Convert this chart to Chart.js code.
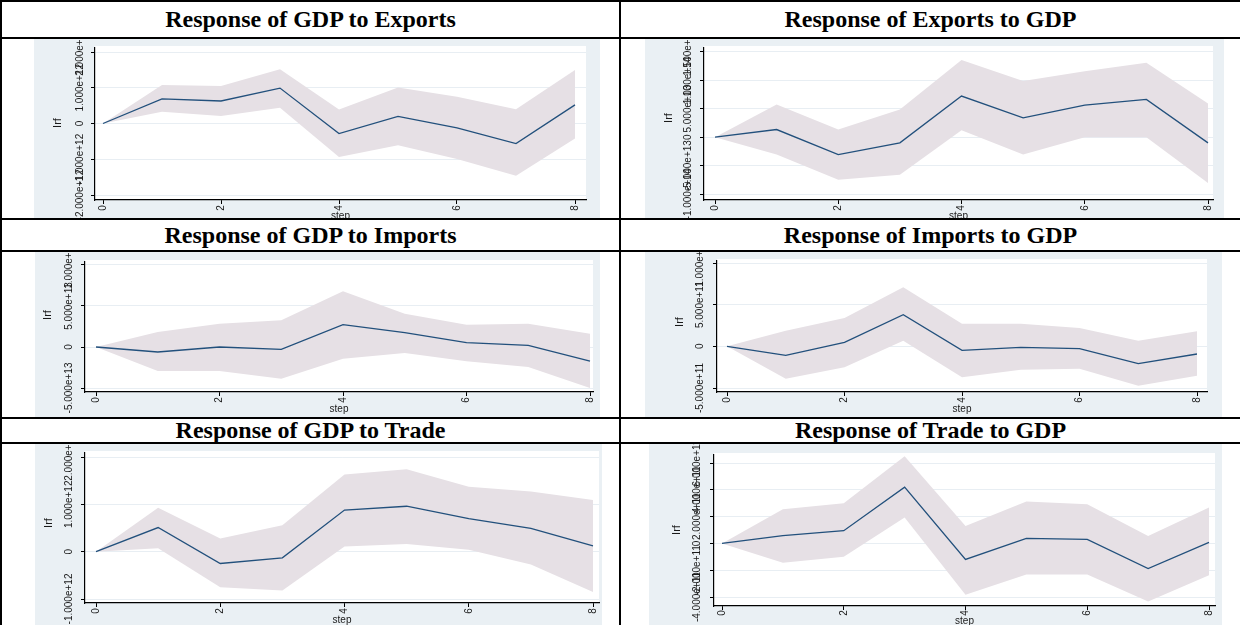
<!DOCTYPE html>
<html>
<head>
<meta charset="utf-8">
<script src="https://cdn.jsdelivr.net/npm/chart.js@4.4.0/dist/chart.umd.min.js"></script>
<style>
  html, body { margin: 0; padding: 0; background: #fff; }
  body { width: 1240px; height: 625px; position: relative; overflow: hidden; }
  .rule { position: absolute; background: #000; }
  .title { position: absolute; display: flex; align-items: center; justify-content: center;
           font: bold 24px "Liberation Serif", "Times New Roman", serif; color: #000; white-space: nowrap; }
  canvas { position: absolute; background: #eaf0f4; }
</style>
</head>
<body>
<script>
// ---- data -------------------------------------------------------------
const steps = [0, 1, 2, 3, 4, 5, 6, 7, 8];
const xTicks = [0, 2, 4, 6, 8];
const xTickLabels = ['0', '2', '4', '6', '8'];
const xTitle = 'step';
const yTitle = 'Irf';

// Response of GDP to Exports
const gdpExportsIrf   = [0, 0.69e12, 0.63e12, 0.99e12, -0.28e12, 0.20e12, -0.12e12, -0.56e12, 0.52e12];
const gdpExportsUpper = [0, 1.08e12, 1.05e12, 1.52e12, 0.39e12, 1.01e12, 0.75e12, 0.40e12, 1.50e12];
const gdpExportsLower = [0, 0.33e12, 0.21e12, 0.44e12, -0.94e12, -0.61e12, -0.99e12, -1.46e12, -0.42e12];
const gdpExportsTicks = [-2e12, -1e12, 0, 1e12, 2e12];
const gdpExportsTickLabels = ['-2.000e+12', '-1.000e+12', '0', '1.000e+12', '2.000e+12'];

// Response of Exports to GDP
const exportsGdpIrf   = [0, 1.35e13, -3.06e13, -1.0e13, 7.24e13, 3.41e13, 5.65e13, 6.65e13, -1.0e13];
const exportsGdpUpper = [0, 5.76e13, 1.35e13, 4.88e13, 13.6e13, 9.88e13, 11.6e13, 13.1e13, 5.94e13];
const exportsGdpLower = [0, -3.06e13, -7.47e13, -6.59e13, 1.24e13, -3.06e13, 0, 0, -8.06e13];
const exportsGdpTicks = [-1e14, -5e13, 0, 5e13, 1e14, 1.5e14];
const exportsGdpTickLabels = ['-1.000e+14', '-5.000e+13', '0', '5.000e+13', '1.000e+14', '1.500e+14'];

// Response of GDP to Imports
const gdpImportsIrf   = [0, -0.61e13, 0, -0.28e13, 2.72e13, 1.75e13, 0.53e13, 0.2e13, -1.71e13];
const gdpImportsUpper = [0, 1.83e13, 2.85e13, 3.25e13, 6.79e13, 4.07e13, 2.72e13, 2.85e13, 1.63e13];
const gdpImportsLower = [0, -2.93e13, -2.93e13, -3.86e13, -1.42e13, -0.73e13, -1.75e13, -2.44e13, -5.0e13];
const gdpImportsTicks = [-5e13, 0, 5e13, 1e14];
const gdpImportsTickLabels = ['-5.000e+13', '0', '5.000e+13', '1.000e+14'];

// Response of Imports to GDP
const importsGdpIrf   = [0, -1.08e11, 0.48e11, 3.8e11, -0.48e11, -0.12e11, -0.28e11, -2.08e11, -0.92e11];
const importsGdpUpper = [0, 1.88e11, 3.4e11, 7.08e11, 2.72e11, 2.72e11, 2.2e11, 0.68e11, 1.8e11];
const importsGdpLower = [0, -3.88e11, -2.52e11, 0.68e11, -3.72e11, -2.8e11, -2.68e11, -4.72e11, -3.52e11];
const importsGdpTicks = [-5e11, 0, 5e11, 1e12];
const importsGdpTickLabels = ['-5.000e+11', '0', '5.000e+11', '1.000e+12'];

// Response of GDP to Trade
const gdpTradeIrf   = [0, 0.51e12, -0.25e12, -0.13e12, 0.88e12, 0.96e12, 0.70e12, 0.49e12, 0.12e12];
const gdpTradeUpper = [0, 0.93e12, 0.28e12, 0.56e12, 1.63e12, 1.74e12, 1.37e12, 1.27e12, 1.09e12];
const gdpTradeLower = [0, 0.07e12, -0.75e12, -0.82e12, 0.11e12, 0.16e12, 0.04e12, -0.27e12, -0.85e12];
const gdpTradeTicks = [-1e12, 0, 1e12, 2e12];
const gdpTradeTickLabels = ['-1.000e+12', '0', '1.000e+12', '2.000e+12'];

// Response of Trade to GDP
const tradeGdpIrf   = [0, 0.58e11, 0.95e11, 4.2e11, -1.2e11, 0.38e11, 0.3e11, -1.88e11, 0.08e11];
const tradeGdpUpper = [0, 2.55e11, 3.0e11, 6.5e11, 1.3e11, 3.13e11, 2.93e11, 0.55e11, 2.68e11];
const tradeGdpLower = [0, -1.45e11, -1.0e11, 1.93e11, -3.83e11, -2.33e11, -2.33e11, -4.33e11, -2.38e11];
const tradeGdpTicks = [-4e11, -2e11, 0, 2e11, 4e11, 6e11];
const tradeGdpTickLabels = ['-4.000e+11', '-2.000e+11', '0', '2.000e+11', '4.000e+11', '6.000e+11'];

const panelTitles = [
  'Response of GDP to Exports', 'Response of Exports to GDP',
  'Response of GDP to Imports', 'Response of Imports to GDP',
  'Response of GDP to Trade',   'Response of Trade to GDP'
];
const panelSeries = [
  [gdpExportsIrf, gdpExportsLower, gdpExportsUpper, gdpExportsTicks, gdpExportsTickLabels],
  [exportsGdpIrf, exportsGdpLower, exportsGdpUpper, exportsGdpTicks, exportsGdpTickLabels],
  [gdpImportsIrf, gdpImportsLower, gdpImportsUpper, gdpImportsTicks, gdpImportsTickLabels],
  [importsGdpIrf, importsGdpLower, importsGdpUpper, importsGdpTicks, importsGdpTickLabels],
  [gdpTradeIrf,   gdpTradeLower,   gdpTradeUpper,   gdpTradeTicks,   gdpTradeTickLabels],
  [tradeGdpIrf,   tradeGdpLower,   tradeGdpUpper,   tradeGdpTicks,   tradeGdpTickLabels]
];

// ---- page layout (page pixels) -----------------------------------------
// table rules
const hRules = [0, 37, 218, 250, 417, 442];
const vRules = [0, 619];
// title rows [top, bottom]
const titleRows = [[2, 37], [220, 250], [419, 442]];
const cellCols = [[2, 619], [621, 1240]];

// box: canvas (graph region); plot: plot region; x0/x8: pixel of step 0 and 8;
// yTop/yBot: pixel of highest/lowest tick; labX: y tick label centre; irfX/irfY: y title.
const layouts = [
  { box: [34, 39, 566, 179],  plot: { l: 95,  r: 586,  t: 48,  b: 200 }, x0: 103, x8: 575,  yTop: 52,  yBot: 195, labX: 80,  irfX: 58,  irfY: 123, xLabY: 208, stepY: 216 },
  { box: [645, 39, 579, 179], plot: { l: 704, r: 1213, t: 48,  b: 200 }, x0: 715, x8: 1208, yTop: 52,  yBot: 194, labX: 688, irfX: 669, irfY: 118, xLabY: 208, stepY: 216 },
  { box: [35, 252, 565, 165], plot: { l: 85,  r: 593,  t: 262, b: 392 }, x0: 96,  x8: 590,  yTop: 265, yBot: 388, labX: 69,  irfX: 48,  irfY: 315, xLabY: 400, stepY: 409 },
  { box: [645, 252, 577, 165],plot: { l: 717, r: 1207, t: 261, b: 392 }, x0: 727, x8: 1197, yTop: 263, yBot: 388, labX: 700, irfX: 680, irfY: 322, xLabY: 400, stepY: 409 },
  { box: [35, 444, 567, 181], plot: { l: 85,  r: 599,  t: 453, b: 603 }, x0: 96,  x8: 593,  yTop: 457, yBot: 599, labX: 69,  irfX: 49,  irfY: 523, xLabY: 611, stepY: 620 },
  { box: [649, 444, 573, 181],plot: { l: 714, r: 1215, t: 455, b: 606 }, x0: 722, x8: 1209, yTop: 463, yBot: 597, labX: 697, irfX: 677, irfY: 530, xLabY: 613, stepY: 621 }
];

const LINE_COLOR = '#22507c';
const BAND_COLOR = '#e6e0e5';
const GRID_COLOR = '#e8eef3';
const TEXT_COLOR = '#1a1a1a';
const TICK_LEN = 4;
const TICK_FONT = '10px "Liberation Sans", Arial, sans-serif';
const TITLE_FONT = '11px "Liberation Sans", Arial, sans-serif';

// ---- table ------------------------------------------------------------
function addDiv(cls, x, y, w, h) {
  const d = document.createElement('div');
  d.className = cls;
  Object.assign(d.style, { left: x + 'px', top: y + 'px', width: w + 'px', height: h + 'px' });
  document.body.appendChild(d);
  return d;
}
hRules.forEach(y => addDiv('rule', vRules[0], y, 1240 - vRules[0], 2));
vRules.forEach(x => addDiv('rule', x, 0, 2, 625));
panelTitles.forEach((t, i) => {
  const [top, bot] = titleRows[Math.floor(i / 2)];
  const [l, r] = cellCols[i % 2];
  const d = addDiv('title', l, top, r - l, bot - top);
  d.textContent = t;
});

// ---- charts -----------------------------------------------------------
function pts(vals) { return steps.map((s, i) => ({ x: s, y: vals[i] })); }

function drawRotated(ctx, text, x, y, font) {
  ctx.save();
  ctx.translate(x, y);
  ctx.rotate(-Math.PI / 2);
  ctx.font = font;
  ctx.textAlign = 'center';
  ctx.textBaseline = 'middle';
  ctx.fillText(text, 0, 0);
  ctx.restore();
}

panelSeries.forEach((series, i) => {
  const [irf, lower, upper, yTicks, yTickLabels] = series;
  const L = layouts[i];
  const [bx, by, bw, bh] = L.box;
  const p = L.plot;

  const canvas = document.createElement('canvas');
  canvas.width = bw; canvas.height = bh;
  canvas.style.left = bx + 'px'; canvas.style.top = by + 'px';
  document.body.appendChild(canvas);

  // axis ranges so that the ticks fall on the given pixel rows / columns
  const tMin = yTicks[0], tMax = yTicks[yTicks.length - 1];
  const vpy = (tMax - tMin) / (L.yBot - L.yTop);
  const yMax = tMax + (L.yTop - p.t) * vpy;
  const yMin = tMin - (p.b - L.yBot) * vpy;
  const sMin = steps[0], sMax = steps[steps.length - 1];
  const vpx = (sMax - sMin) / (L.x8 - L.x0);
  const xMin = sMin - (L.x0 - p.l) * vpx;
  const xMax = sMax + (p.r - L.x8) * vpx;

  const plotBg = {
    id: 'plotBg',
    beforeDraw(chart) {
      const a = chart.chartArea, c = chart.ctx;
      c.save();
      c.fillStyle = '#ffffff';
      c.fillRect(a.left, a.top - 2, a.right - a.left, a.bottom - a.top + 2);
      c.restore();
    }
  };
  const axisText = {
    id: 'axisText',
    afterDraw(chart) {
      const c = chart.ctx, ys = chart.scales.y, xs = chart.scales.x;
      c.save();
      c.fillStyle = TEXT_COLOR;
      yTicks.forEach((v, k) => drawRotated(c, yTickLabels[k], L.labX - bx, ys.getPixelForValue(v), TICK_FONT));
      drawRotated(c, yTitle, L.irfX - bx, L.irfY - by, TITLE_FONT);
      xTicks.forEach((v, k) => drawRotated(c, xTickLabels[k], xs.getPixelForValue(v), L.xLabY - by, TICK_FONT));
      c.font = TICK_FONT;
      c.textAlign = 'center'; c.textBaseline = 'middle';
      c.fillText(xTitle, (xs.left + xs.right) / 2, L.stepY - by);
      c.restore();
    }
  };

  new Chart(canvas, {
    type: 'line',
    data: {
      datasets: [
        { data: pts(upper), fill: '+1', backgroundColor: BAND_COLOR, borderColor: 'rgba(0,0,0,0)', borderWidth: 0, pointRadius: 0, order: 2 },
        { data: pts(lower), fill: false, borderColor: 'rgba(0,0,0,0)', borderWidth: 0, pointRadius: 0, order: 3 },
        { data: pts(irf), fill: false, borderColor: LINE_COLOR, borderWidth: 1.3, pointRadius: 0, tension: 0, order: 1 }
      ]
    },
    options: {
      responsive: false,
      animation: false,
      events: [],
      layout: {
        autoPadding: false,
        padding: { left: p.l - bx - TICK_LEN, top: p.t - by, right: bx + bw - p.r, bottom: by + bh - p.b - TICK_LEN }
      },
      plugins: { legend: { display: false }, tooltip: { enabled: false } },
      scales: {
        x: {
          type: 'linear', min: xMin, max: xMax,
          afterBuildTicks: s => { s.ticks = xTicks.map(v => ({ value: v })); },
          afterFit: s => { s.height = TICK_LEN; },
          ticks: { display: false },
          grid: { drawOnChartArea: false, drawTicks: true, tickLength: TICK_LEN, tickColor: '#000', lineWidth: 1 },
          border: { display: true, color: '#000', width: 1.2 }
        },
        y: {
          type: 'linear', min: yMin, max: yMax,
          afterBuildTicks: s => { s.ticks = yTicks.map(v => ({ value: v })); },
          afterFit: s => { s.width = TICK_LEN; },
          ticks: { display: false },
          grid: { drawOnChartArea: true, color: GRID_COLOR, drawTicks: true, tickLength: TICK_LEN, tickColor: '#000', lineWidth: 1 },
          border: { display: true, color: '#000', width: 1.2 }
        }
      }
    },
    plugins: [plotBg, axisText]
  });
});
</script>
</body>
</html>
